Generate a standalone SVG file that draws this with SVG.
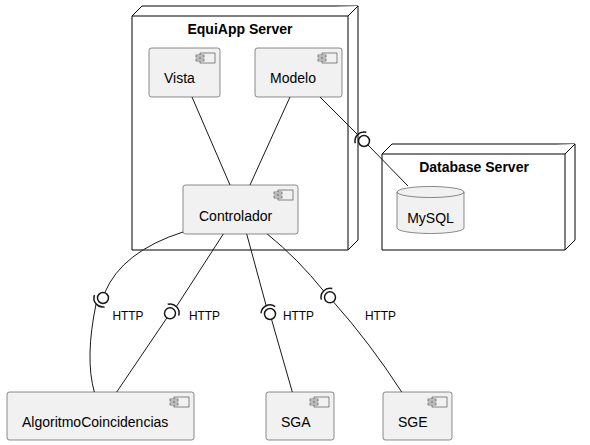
<svg xmlns="http://www.w3.org/2000/svg" width="590" height="445" viewBox="0 0 590 445">
<style>
.node{fill:#FFFFFF;stroke:#000000;stroke-width:1}
.comp{fill:#F1F1F1;stroke:#181818;stroke-width:0.5}
.icon{fill:#F1F1F1;stroke:#181818;stroke-width:0.5}
.title{font-family:"Liberation Sans",Arial,sans-serif;font-size:14px;font-weight:bold;fill:#000}
.lbl{font-family:"Liberation Sans",Arial,sans-serif;font-size:14px;fill:#000}
.http{font-family:"Liberation Sans",Arial,sans-serif;font-size:13.5px;fill:#000}
.ln{fill:none;stroke:#181818;stroke-width:1}
.ball{fill:#FFFFFF;stroke:#181818;stroke-width:1.5}
.sock{fill:none;stroke:#181818;stroke-width:1.5}
</style>
<defs>
<g id="cicon">
<rect class="icon" x="-20" y="5" width="15" height="10"/>
<rect class="icon" x="-24" y="7" width="8" height="2"/>
<rect class="icon" x="-24" y="11" width="8" height="2"/>
</g>
</defs>

<g id="equiapp">
<path class="node" d="M132,16 L142,6 L358,6 L358,240 L348,250 L132,250 Z"/>
<path class="node" d="M132,16 L348,16 L358,6 M348,16 L348,250"/>
<text class="title" x="240" y="34" text-anchor="middle">EquiApp Server</text>
</g>

<g id="dbserver">
<path class="node" d="M382,154 L392,144 L575,144 L575,240 L565,250 L382,250 Z"/>
<path class="node" d="M382,154 L565,154 L575,144 M565,154 L565,250"/>
<text class="title" x="474" y="172" text-anchor="middle">Database Server</text>
</g>

<g id="vista">
<rect class="comp" x="149" y="48" width="71" height="49" rx="2.5"/>
<use href="#cicon" transform="translate(220,48)"/>
<text class="lbl" x="164" y="83">Vista</text>
</g>

<g id="modelo">
<rect class="comp" x="255" y="48" width="87" height="49" rx="2.5"/>
<use href="#cicon" transform="translate(342,48)"/>
<text class="lbl" x="270" y="83">Modelo</text>
</g>

<g id="controlador">
<rect class="comp" x="183" y="185" width="115" height="49" rx="2.5"/>
<use href="#cicon" transform="translate(298,185)"/>
<text class="lbl" x="199" y="221">Controlador</text>
</g>

<g id="mysql">
<path class="comp" d="M397,192 A33.5,5.5 0 0 1 464,192 L464,228 A33.5,5.5 0 0 1 397,228 Z"/>
<path class="comp" d="M397,192 A33.5,5.5 0 0 0 464,192" fill="none"/>
<text class="lbl" x="430.5" y="223" text-anchor="middle">MySQL</text>
</g>

<g id="algoritmo">
<rect class="comp" x="7" y="392" width="187" height="48" rx="2.5"/>
<use href="#cicon" transform="translate(194,392)"/>
<text class="lbl" x="22" y="427">AlgoritmoCoincidencias</text>
</g>

<g id="sga">
<rect class="comp" x="266" y="392" width="68" height="48" rx="2.5"/>
<use href="#cicon" transform="translate(334,392)"/>
<text class="lbl" x="281" y="427">SGA</text>
</g>

<g id="sge">
<rect class="comp" x="383" y="392" width="69" height="48" rx="2.5"/>
<use href="#cicon" transform="translate(452,392)"/>
<text class="lbl" x="398" y="427">SGE</text>
</g>

<g id="connectors">
<line class="ln" x1="192" y1="97" x2="230" y2="185"/>
<line class="ln" x1="290" y1="97" x2="250" y2="185"/>

<line class="ln" x1="320" y1="97" x2="357.6" y2="134.6"/>
<path class="sock" d="M355.3,143.3 A9,9 0 0 1 366.3,132.3"/>
<circle class="ball" cx="364" cy="141" r="5.5"/>
<line class="ln" x1="367.9" y1="144.9" x2="408" y2="186"/>

<path class="ln" d="M183,232 Q122,251.5 104.7,292.8"/>
<circle class="ball" cx="103" cy="298" r="5.5"/>
<path class="sock" d="M104.6,306.9 A9,9 0 0 1 94.5,294.9"/>
<path class="ln" d="M96.1,303.8 Q84.8,358 94.3,392"/>
<text class="http" x="112.5" y="320" textLength="31" lengthAdjust="spacingAndGlyphs">HTTP</text>

<line class="ln" x1="223.3" y1="234" x2="176.4" y2="306.6"/>
<path class="sock" d="M167.7,304.3 A9,9 0 0 1 178.7,315.6"/>
<circle class="ball" cx="170" cy="313.3" r="5.5"/>
<line class="ln" x1="166.9" y1="317.9" x2="116.7" y2="392"/>
<text class="http" x="189" y="320" textLength="31" lengthAdjust="spacingAndGlyphs">HTTP</text>

<line class="ln" x1="246.7" y1="234" x2="266.2" y2="305.8"/>
<path class="sock" d="M261,313.2 A9,9 0 0 1 275.2,306.6"/>
<circle class="ball" cx="270" cy="314" r="5.5"/>
<line class="ln" x1="271.5" y1="319.3" x2="292.3" y2="392"/>
<text class="http" x="283" y="320" textLength="31" lengthAdjust="spacingAndGlyphs">HTTP</text>

<path class="ln" d="M267.3,234 Q298,259 323.6,290.9"/>
<path class="sock" d="M321.3,299.6 A9,9 0 0 1 332.3,288.6"/>
<circle class="ball" cx="330" cy="297.3" r="5.5"/>
<path class="ln" d="M333.3,301.7 Q370,343 401.7,392"/>
<text class="http" x="365" y="320" textLength="31" lengthAdjust="spacingAndGlyphs">HTTP</text>
</g>
</svg>
